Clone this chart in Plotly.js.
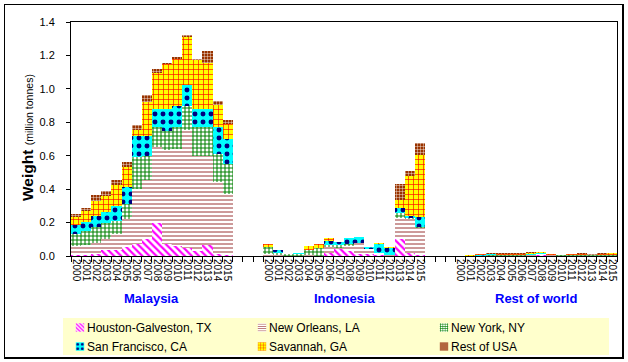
<!DOCTYPE html>
<html><head><meta charset="utf-8">
<script src="https://cdn.plot.ly/plotly-3.0.1.min.js"></script>
<style>
html,body{margin:0;padding:0;background:#fff;}
#chart{width:628px;height:362px;}
#frame{position:absolute;left:4px;top:4px;width:617px;height:352px;border:1px solid #000;border-right-width:2px;border-bottom-width:2px;pointer-events:none;}
</style>
</head><body>
<div id="chart"></div><div id="frame"></div>
<script>
const years = ['2000','2001','2002','2003','2004','2005','2006','2007','2008','2009','2010','2011','2012','2013','2014','2015'];
const regions = ['Malaysia','Indonesia','Rest of world'];
const seriesNames = ['Houston-Galveston, TX','New Orleans, LA','New York, NY','San Francisco, CA','Savannah, GA','Rest of USA'];

// Malaysia (million tonnes)
const houstonMY = [0.005,0.008,0.013,0.035,0.037,0.055,0.07,0.10,0.196,0.07,0.06,0.045,0.03,0.065,0.01,0.005];
const neworleansMY = [0.055,0.055,0.067,0.065,0.096,0.168,0.33,0.352,0.459,0.562,0.58,0.706,0.57,0.535,0.432,0.367];
const newyorkMY = [0.073,0.087,0.095,0.10,0.079,0.089,0.19,0.148,0.116,0.113,0.13,0.149,0.17,0.17,0.17,0.18];
const sanfranMY = [0.05,0.055,0.062,0.065,0.09,0.10,0.13,0.12,0.11,0.136,0.13,0.121,0.108,0.108,0.159,0.148];
const savannahMY = [0.053,0.063,0.095,0.095,0.12,0.12,0.036,0.201,0.214,0.269,0.28,0.289,0.297,0.277,0.134,0.09];
const restMY = [0.017,0.019,0.03,0.026,0.03,0.03,0.025,0.04,0.026,0.005,0.01,0.01,0.005,0.07,0.02,0.021];

// Indonesia
const houstonID = [0,0,0,0,0,0,0.015,0.04,0.03,0.01,0.01,0.005,0,0.10,0.02,0.005];
const neworleansID = [0.01,0.005,0.003,0.003,0.005,0.003,0.039,0.01,0.03,0.065,0.03,0.01,0.005,0.13,0.20,0.165];
const newyorkID = [0.045,0.01,0.007,0.007,0.03,0.047,0.012,0.016,0.01,0,0,0.005,0,0.027,0.005,0.003];
const sanfranID = [0,0.02,0.003,0.01,0,0,0.024,0.02,0.035,0.04,0.015,0.05,0.04,0.03,0.015,0.06];
const savannahID = [0.015,0,0,0,0.025,0.019,0.017,0,0,0,0,0.005,0.01,0.046,0.24,0.37];
const restID = [0.003,0,0,0,0.002,0,0,0,0,0,0,0.005,0,0.10,0.03,0.073];

// Rest of world
const houstonRW = [0,0,0,0,0,0,0,0.003,0.008,0.002,0,0,0,0,0,0];
const neworleansRW = [0,0.002,0.003,0.003,0.003,0.003,0.003,0.003,0.003,0.002,0.002,0.002,0.002,0.002,0.002,0.003];
const newyorkRW = [0,0,0,0.001,0.002,0.002,0.002,0.002,0.002,0.002,0.002,0.003,0.003,0.002,0.002,0.002];
const sanfranRW = [0,0,0.002,0.006,0.003,0.004,0.002,0.003,0.002,0.002,0.001,0.001,0.001,0.001,0.004,0.004];
const savannahRW = [0,0.002,0.006,0.004,0.006,0.005,0.006,0.006,0.006,0.004,0.002,0.004,0.006,0.004,0.005,0.006];
const restRW = [0,0.002,0.003,0.002,0.003,0.002,0.002,0.004,0.004,0.002,0.001,0.002,0.003,0.002,0.002,0.003];

const gap = 3;
const slot = years.length + gap;
const xpos = [], xtext = [];
regions.forEach((r, k) => years.forEach((y, i) => { xpos.push(k*slot + i); xtext.push(y); }));

const seriesData = [
  houstonMY.concat(houstonID, houstonRW),
  neworleansMY.concat(neworleansID, neworleansRW),
  newyorkMY.concat(newyorkID, newyorkRW),
  sanfranMY.concat(sanfranID, sanfranRW),
  savannahMY.concat(savannahID, savannahRW),
  restMY.concat(restID, restRW)
];

const patterns = [
  {shape:'\\', fgcolor:'#FF00FF', bgcolor:'#FFFFFF', size:5, solidity:0.45},
  {shape:'-', fgcolor:'#800000', bgcolor:'#FFFFFF', size:4, solidity:0.2},
  {shape:'+', fgcolor:'#008000', bgcolor:'#FFFFFF', size:4, solidity:0.45},
  {shape:'.', fgcolor:'#000080', bgcolor:'#00FFFF', size:8, solidity:0.3},
  {shape:'+', fgcolor:'#FF0000', bgcolor:'#FFFF00', size:5, solidity:0.24},
  {shape:'+', fgcolor:'#FFFFFF', bgcolor:'#993300', size:3, solidity:0.25}
];

const traces = seriesNames.map((n, s) => ({
  type:'bar', name:n, x:xpos, y:seriesData[s],
  marker:{color:patterns[s].bgcolor, line:{width:0}, pattern:Object.assign({fillmode:'replace'}, patterns[s])},
  hoverinfo:'skip'
}));

const FONT = 'Arial, "Liberation Sans", sans-serif';
const L = 71, R = 11, T = 22, B = 106, W = 628, H = 362;
const pw = W - L - R, ph = H - T - B;

const annotations = regions.map((r, k) => ({
  text:'<b>'+r+'</b>', x:k*slot + (years.length-1)/2, xref:'x', y:(256-298)/ph, yref:'paper',
  showarrow:false, font:{family:FONT, size:13, color:'#0000FF'}, xanchor:'center', yanchor:'middle'
}));
annotations.push({
  text:'<b>Weight</b> <span style="font-size:10.5px">(million tonnes)</span>',
  textangle:-90, xref:'paper', yref:'paper', x:(27-L)/pw, y:(256-138)/ph,
  showarrow:false, font:{family:FONT, size:15.5, color:'#000'}, xanchor:'center', yanchor:'middle'
});

const layout = {
  width:W, height:H, margin:{l:L, r:R, t:T, b:B, autoexpand:false},
  paper_bgcolor:'rgba(0,0,0,0)', plot_bgcolor:'#FFFFFF',
  barmode:'stack', bargap:0, showlegend:true,
  font:{family:FONT, size:11, color:'#000'},
  xaxis:{range:[-0.5, 3*slot - gap - 0.5], tickvals:xpos, ticktext:xtext, tickangle:90, automargin:false,
    ticks:'', showline:true, linecolor:'#000', linewidth:1, mirror:true, showgrid:false, zeroline:false,
    tickfont:{family:FONT, size:10, color:'#000'},
    minor:{tickmode:'linear', tick0:-0.5, dtick:1, ticks:'outside', ticklen:5, tickcolor:'#000', tickwidth:1, showgrid:false}},
  yaxis:{range:[0,1.4], dtick:0.2, tick0:0, tickformat:'.1f', ticks:'outside', ticklen:4, tickcolor:'#000', automargin:false,
    showline:true, linecolor:'#000', linewidth:1, mirror:true, showgrid:false, zeroline:false,
    ticklabelstandoff:9, tickfont:{family:FONT, size:11, color:'#000'}},
  legend:{orientation:'h', x:(47-L)/pw, xanchor:'left', y:(256-313)/ph, yanchor:'top',
    bgcolor:'rgba(0,0,0,0)', borderwidth:0, entrywidth:137, entrywidthmode:'pixels',
    font:{family:FONT, size:12, color:'#000'}, traceorder:'normal', itemclick:false},
  shapes:[{type:'rect', xref:'paper', yref:'paper', x0:(63-L)/pw, x1:(609-L)/pw, y0:(256-355)/ph, y1:(256-318)/ph,
    fillcolor:'#FFFFCC', line:{width:0}, layer:'below'}],
  annotations:annotations
};

Plotly.newPlot('chart', traces, layout, {displayModeBar:false, staticPlot:true}).then(() => {
  // make legend swatches small and close to the text, as in the original
  document.querySelectorAll('#chart .legend .legendpoints path').forEach(p => {
    p.setAttribute('transform', 'translate(33,0) scale(0.7)');
  });
});
</script>
</body></html>
